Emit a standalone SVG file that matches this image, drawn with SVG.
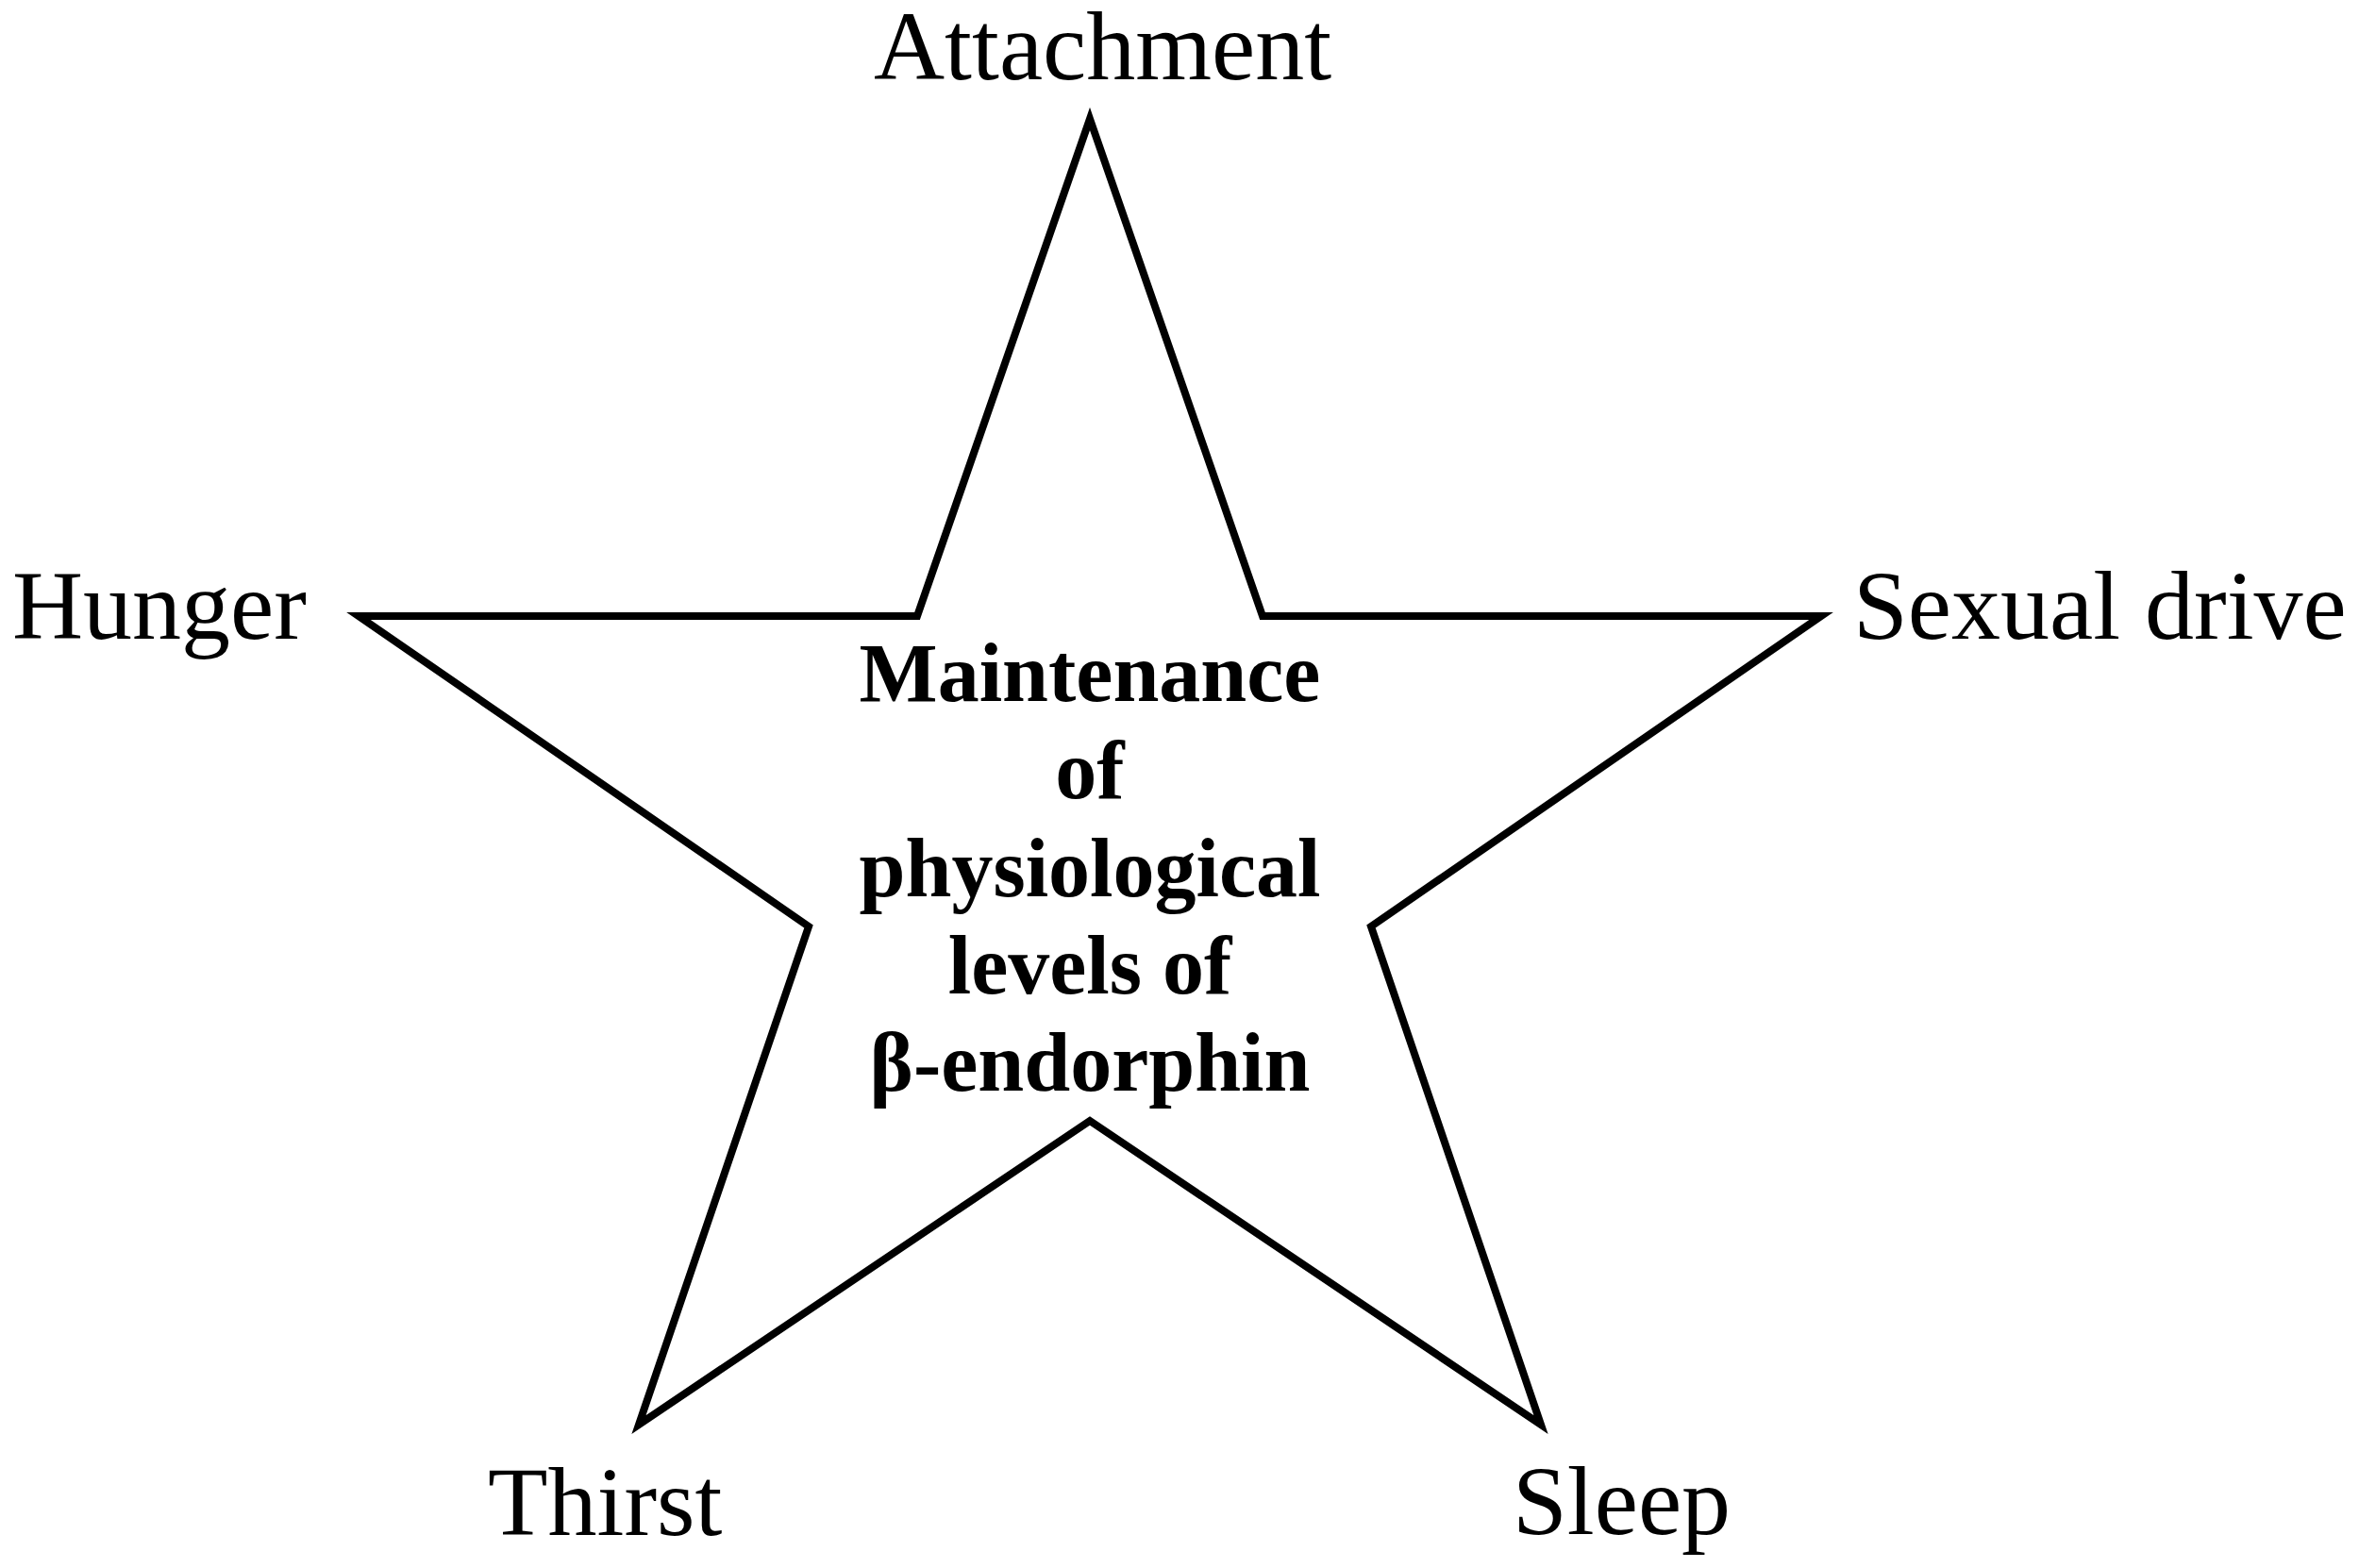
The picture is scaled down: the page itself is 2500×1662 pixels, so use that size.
<svg xmlns="http://www.w3.org/2000/svg" width="2500" height="1662" viewBox="0 0 2500 1662">
<style>
.lbl{font-family:"Liberation Serif","Times New Roman",serif;font-size:104px;fill:#000}
.ctr{font-family:"Liberation Serif","Times New Roman",serif;font-size:88px;font-weight:bold;fill:#000;text-anchor:middle}
.star{fill:#fff;stroke:#000;stroke-width:8;stroke-linejoin:miter;stroke-miterlimit:10}
</style>
<rect width="2500" height="1662" fill="#fff"/>
<g id="star">
<polygon class="star" points="1155,126 1338,653 1930,653 1453,982 1633,1510 1155,1188 677,1510 857,982 380,653 972,653"/>
<text class="ctr" x="1155" y="743">Maintenance</text>
<text class="ctr" x="1155" y="846">of</text>
<text class="ctr" x="1155" y="950">physiological</text>
<text class="ctr" x="1155" y="1053">levels of</text>
<text class="ctr" x="1155" y="1156">β-endorphin</text>
</g>
<g id="connectors"></g>
<g id="attachment"><text class="lbl" x="926" y="84">Attachment</text></g>
<g id="hunger"><text class="lbl" x="13" y="677">Hunger</text></g>
<g id="sexual-drive"><text class="lbl" x="1964" y="677">Sexual drive</text></g>
<g id="thirst"><text class="lbl" x="517" y="1627">Thirst</text></g>
<g id="sleep"><text class="lbl" x="1603" y="1626">Sleep</text></g>
</svg>
